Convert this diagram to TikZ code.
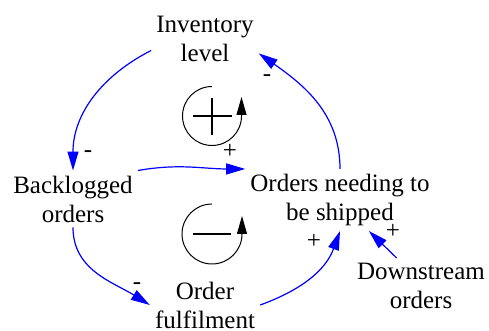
\documentclass[tikz,border=0pt]{standalone}
\usepackage{fontspec}
\setmainfont{Liberation Serif}
\usetikzlibrary{arrows.meta}

\begin{document}
\begin{tikzpicture}[x=1pt,y=1pt]
		
		\useasboundingbox (0,0) rectangle (489,331);
		
		\tikzstyle{every node}=[align=center, inner sep=5pt, font=\rmfamily\fontsize{25}{29}\selectfont]
		\tikzstyle{causal}=[blue, line width=1.2pt, -{Triangle[length=19pt, width=11pt]}]
		\tikzstyle{polarity}=[inner sep=0pt, font=\rmfamily\fontsize{25}{25}\selectfont]
		\tikzstyle{loopsign}=[black, line width=1pt, -{Triangle[length=18pt, width=10pt]}]
		
		\node (inv) at (205,292) {Inventory\\level};
		\node (back) at (73,132) {Backlogged\\orders};
		\node (ship) at (340,131) {Orders needing to\\be shipped};
		\node (ful) at (205,26) {Order\\fulfilment};
		\node (down) at (421,45) {Downstream\\orders};
		
		\draw[causal] (inv.192) to [out=207, in=90] (back.north);
		\draw[causal] (ship.north) to [out=90, in=-35] (inv.-15);
		\draw[causal] (back.north east) to [out=10, in=180] (ship.north west);
		\draw[causal] (back.south) to [out=270, in=148] (ful.west);
		\draw[causal] (ful.east) to [out=20, in=250] (ship.south);
		\draw[causal] (down.131) to (ship.-47);
		
		\node[polarity] (p1) at (88,177) {-};
		\node[polarity] (p2) at (267,253) {-};
		\node[polarity] (p3) at (230,180) {+};
		\node[polarity] (p4) at (137,45) {-};
		\node[polarity] (p5) at (314,90) {+};
		\node[polarity] (p6) at (393,100) {+};
		
		% reinforcing loop
		\draw[loopsign] (212,215) ++(90:29.5) arc[start angle=90, end angle=360, radius=29.5] -- ++(0,19);
		\draw[line width=2.2pt] (193,215) -- (232,215);
		\draw[line width=2.2pt] (212,233) -- (212,196);
		
		% balancing loop
		\draw[loopsign] (212,97) ++(90:30) arc[start angle=90, end angle=360, radius=30] -- ++(0,18);
		\draw[line width=2.2pt] (193,97) -- (231,97);
		
	\end{tikzpicture}
\end{document}
